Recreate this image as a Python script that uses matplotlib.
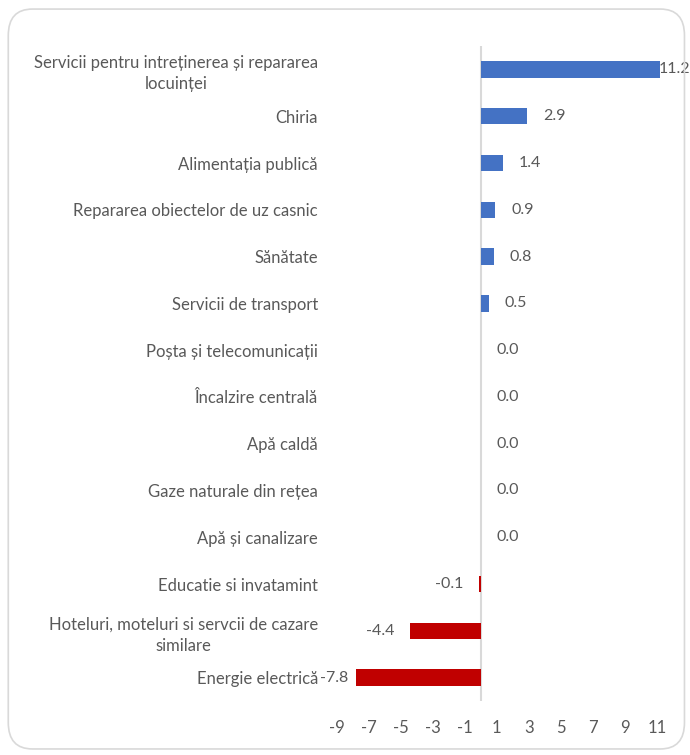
import matplotlib.pyplot as plt
from matplotlib.patches import FancyBboxPatch

# date
categorii = [
    "Servicii pentru intreținerea și repararea\nlocuinței",
    "Chiria",
    "Alimentația publică",
    "Repararea obiectelor de uz casnic",
    "Sănătate",
    "Servicii de transport",
    "Poșta și telecomunicații",
    "Încalzire centrală",
    "Apă caldă",
    "Gaze naturale din rețea",
    "Apă și canalizare",
    "Educatie si invatamint",
    "Hoteluri, moteluri si servcii de cazare\nsimilare",
    "Energie electrică",
]
valori = [11.2, 2.9, 1.4, 0.9, 0.8, 0.5, 0.0, 0.0, 0.0, 0.0, 0.0, -0.1, -4.4, -7.8]
ticks_x = [-9, -7, -5, -3, -1, 1, 3, 5, 7, 9, 11]

ALBASTRU = "#4472C4"
ROSU = "#C00000"
GRI_TEXT = "#595959"
FS = 12

plt.rcParams['font.family'] = ['Lato', 'DejaVu Sans']

fig = plt.figure(figsize=(6.9, 7.55), dpi=100)
ax = fig.add_axes([0.488, 0.0715, 0.487, 0.8675])

# chenar rotunjit
fig.patches.append(FancyBboxPatch((0.012, 0.008), 0.98, 0.98,
                                  boxstyle="round,pad=0,rounding_size=0.035",
                                  transform=fig.transFigure, facecolor="none",
                                  edgecolor="#D9D9D9", linewidth=1.2))

y = list(range(len(categorii)))
culori = [ALBASTRU if v > 0 else ROSU for v in valori]
ax.barh(y, valori, height=0.35, color=culori)

ax.set_xlim(-9, 12)
ax.set_ylim(len(categorii) - 0.5, -0.5)
ax.set_xticks(ticks_x)
ax.set_xticklabels([str(t) for t in ticks_x], fontsize=FS, color=GRI_TEXT)
ax.set_yticks(y)
ax.set_yticklabels(categorii, fontsize=FS, color=GRI_TEXT, multialignment="center",
                   linespacing=1.4)
ax.tick_params(length=0)
ax.tick_params(axis="y", pad=13.5)
ax.tick_params(axis="x", pad=13.5)

for s in ax.spines.values():
    s.set_visible(False)
ax.axvline(0, color="#D9D9D9", linewidth=1.5, zorder=0)

# etichete valori
for yi, v in zip(y, valori):
    txt = f"{v:.1f}"
    if v >= 0:
        x = min(v + 1.0, 11.15)
        ax.text(x, yi, txt, ha="left", va="center", fontsize=11.5, color=GRI_TEXT)
    else:
        x = max(v - 1.0, -8.3)
        ax.text(x, yi, txt, ha="right", va="center", fontsize=11.5, color=GRI_TEXT)

fig.savefig("out.png", dpi=100)
